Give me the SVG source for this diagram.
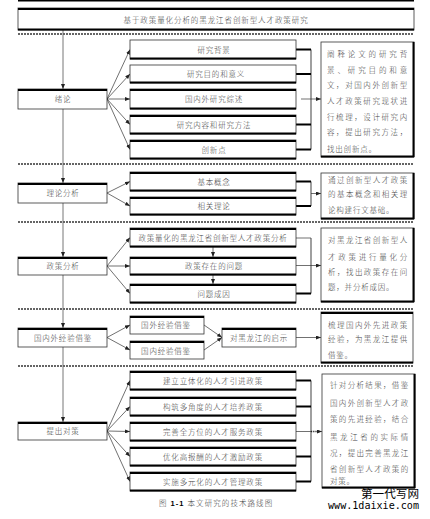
<svg xmlns="http://www.w3.org/2000/svg" width="430" height="519" viewBox="0 0 430 519">
<defs>
<style>
.box{fill:#fff;stroke:#333;stroke-width:0.8}
.thk{stroke:#000;stroke-width:2;fill:none}
.ln{stroke:#333;stroke-width:0.7;fill:none}
.vl{stroke:#666;stroke-width:0.9;fill:none}
.br{stroke:#777;stroke-width:1.4;fill:none}
.sep{stroke:#333;stroke-width:1.4;stroke-dasharray:2 1;fill:none}
.t{font-family:"Liberation Serif","Noto Sans CJK SC",serif;font-size:7.5px;font-weight:300;fill:#444;letter-spacing:0.8px;text-anchor:middle}
.d{font-family:"Liberation Serif","Noto Sans CJK SC",serif;font-size:7.5px;font-weight:300;fill:#444;letter-spacing:0.8px}
</style>
<marker id="ah" markerWidth="5" markerHeight="4" refX="5" refY="2" orient="auto" markerUnits="userSpaceOnUse">
<path d="M0,0 L5,2 L0,4 z" fill="#222"/>
</marker>
</defs>
<rect width="430" height="519" fill="#fff"/>
<line x1="18" y1="0.75" x2="414" y2="0.75" stroke="#000" stroke-width="1.5"/>

<g id="separators">
<line class="sep" x1="18" y1="34" x2="414" y2="34"/>
<line class="sep" x1="18" y1="164" x2="414" y2="164"/>
<line class="sep" x1="18" y1="222" x2="414" y2="222"/>
<line class="sep" x1="18" y1="309" x2="414" y2="309"/>
<line class="sep" x1="18" y1="366" x2="414" y2="366"/>
</g>

<g id="connectors">
<line class="vl" x1="63" y1="30" x2="63" y2="89" marker-end="url(#ah)"/>
<line class="vl" x1="63" y1="109" x2="63" y2="183" marker-end="url(#ah)"/>
<line class="vl" x1="63" y1="203" x2="63" y2="257" marker-end="url(#ah)"/>
<line class="vl" x1="63" y1="275" x2="63" y2="328" marker-end="url(#ah)"/>
<line class="vl" x1="63" y1="347" x2="63" y2="422" marker-end="url(#ah)"/>
<line class="ln" x1="107" y1="99" x2="130" y2="49.5" marker-end="url(#ah)"/>
<line class="ln" x1="107" y1="99" x2="130" y2="74" marker-end="url(#ah)"/>
<line class="ln" x1="107" y1="99" x2="130" y2="99" marker-end="url(#ah)"/>
<line class="ln" x1="107" y1="99" x2="130" y2="124.5" marker-end="url(#ah)"/>
<line class="ln" x1="107" y1="99" x2="130" y2="149.5" marker-end="url(#ah)"/>
<line class="br" x1="311" y1="49.5" x2="311" y2="149.5"/>
<line class="thk" x1="296" y1="49.5" x2="311" y2="49.5"/>
<line class="thk" x1="296" y1="74" x2="311" y2="74"/>
<line class="thk" x1="296" y1="124.5" x2="311" y2="124.5"/>
<line class="thk" x1="296" y1="149.5" x2="311" y2="149.5"/>
<line class="ln" x1="301" y1="99" x2="321" y2="99" marker-end="url(#ah)"/>
<line class="ln" x1="107" y1="193" x2="130" y2="181.5" marker-end="url(#ah)"/>
<line class="ln" x1="107" y1="193" x2="130" y2="206" marker-end="url(#ah)"/>
<line class="br" x1="311" y1="181.5" x2="311" y2="206"/>
<line class="thk" x1="296" y1="181.5" x2="311" y2="181.5"/>
<line class="thk" x1="296" y1="206" x2="311" y2="206"/>
<line class="ln" x1="311" y1="193.5" x2="321" y2="193.5" marker-end="url(#ah)"/>
<line class="ln" x1="107" y1="266" x2="130" y2="237.5" marker-end="url(#ah)"/>
<line class="ln" x1="107" y1="266" x2="130" y2="266" stroke-width="1.8" marker-end="url(#ah)"/>
<line class="ln" x1="107" y1="266" x2="130" y2="293.5" marker-end="url(#ah)"/>
<line class="ln" x1="213" y1="247" x2="213" y2="257" marker-end="url(#ah)"/>
<line class="ln" x1="213" y1="275" x2="213" y2="284" marker-end="url(#ah)"/>
<line class="br" x1="311" y1="238" x2="311" y2="293.5"/>
<line class="ln" x1="296" y1="238" x2="311" y2="238" stroke-width="1"/>
<line class="thk" x1="296" y1="293.5" x2="311" y2="293.5"/>
<line class="ln" x1="296" y1="265.5" x2="321" y2="265.5" marker-end="url(#ah)"/>
<line class="ln" x1="107" y1="337.5" x2="130" y2="325" marker-end="url(#ah)"/>
<line class="ln" x1="107" y1="337.5" x2="130" y2="350" marker-end="url(#ah)"/>
<line class="ln" x1="204" y1="325" x2="222" y2="337.5" marker-end="url(#ah)"/>
<line class="ln" x1="204" y1="350" x2="222" y2="337.5" marker-end="url(#ah)"/>
<line class="ln" x1="296" y1="337.5" x2="321" y2="337.5" marker-end="url(#ah)"/>
<line class="ln" x1="107" y1="431" x2="130" y2="380.5" marker-end="url(#ah)"/>
<line class="ln" x1="107" y1="431" x2="130" y2="406.5" marker-end="url(#ah)"/>
<line class="ln" x1="107" y1="431" x2="130" y2="431.5" marker-end="url(#ah)"/>
<line class="ln" x1="107" y1="431" x2="130" y2="456.5" marker-end="url(#ah)"/>
<line class="ln" x1="107" y1="431" x2="130" y2="481.5" marker-end="url(#ah)"/>
<line class="br" x1="311" y1="380.5" x2="311" y2="481.5"/>
<line class="thk" x1="296" y1="380.5" x2="311" y2="380.5"/>
<line class="thk" x1="296" y1="406.5" x2="311" y2="406.5"/>
<line class="thk" x1="296" y1="456.5" x2="311" y2="456.5"/>
<line class="thk" x1="296" y1="481.5" x2="311" y2="481.5"/>
<line class="ln" x1="296" y1="431.5" x2="311" y2="431.5"/>
<line x1="311" y1="431.5" x2="320" y2="431.5" stroke="#222" stroke-width="1.5" stroke-dasharray="1 0.8"/>
<line class="ln" x1="318" y1="431.5" x2="322" y2="431.5" marker-end="url(#ah)"/>
</g>

<g id="title">
<rect class="box" x="18" y="8" width="396" height="22"/>
<line class="thk" x1="18" y1="9" x2="414" y2="9"/>
<line class="thk" x1="18" y1="29.5" x2="414" y2="29.5"/>
<text class="t" x="216" y="23" textLength="185" lengthAdjust="spacing">基于政策量化分析的黑龙江省创新型人才政策研究</text>
</g>

<g id="n-xulun">
<rect class="box" x="18" y="89" width="89" height="20"/>
<line class="thk" x1="18" y1="90" x2="107" y2="90"/>
<text class="t" x="63" y="102">绪论</text>
</g>
<g id="n-bg"><rect class="box" x="130" y="40" width="166" height="19"/><line class="thk" x1="130" y1="58.5" x2="296" y2="58.5"/><text class="t" x="214" y="52.5">研究背景</text></g>
<g id="n-md"><rect class="box" x="130" y="65" width="166" height="18"/><line class="thk" x1="130" y1="82.5" x2="296" y2="82.5"/><text class="t" x="216" y="77">研究目的和意义</text></g>
<g id="n-zs"><rect class="box" x="130" y="89" width="166" height="20"/><line class="thk" x1="130" y1="90" x2="296" y2="90"/><line class="thk" x1="130" y1="108.5" x2="296" y2="108.5"/><text class="t" x="214" y="102">国内外研究综述</text></g>
<g id="n-ff"><rect class="box" x="130" y="115" width="166" height="19"/><line class="thk" x1="130" y1="116" x2="296" y2="116"/><line class="thk" x1="130" y1="133.5" x2="296" y2="133.5"/><text class="t" x="214" y="127.5">研究内容和研究方法</text></g>
<g id="n-cx"><rect class="box" x="130" y="140" width="166" height="19"/><line class="thk" x1="130" y1="141" x2="296" y2="141"/><line class="thk" x1="130" y1="158.5" x2="296" y2="158.5"/><text class="t" x="214" y="152.5">创新点</text></g>
<g id="d-1">
<rect class="box" x="321" y="42" width="93" height="115"/>
<line class="thk" x1="413.5" y1="42" x2="413.5" y2="157" stroke-width="1.5"/>
<line class="thk" x1="321" y1="156.5" x2="414" y2="156.5" stroke-width="1.5"/>
<text class="d" x="327" y="57" textLength="81" lengthAdjust="spacing">阐释论文的研究背</text>
<text class="d" x="327" y="73" textLength="81" lengthAdjust="spacing">景、研究目的和意</text>
<text class="d" x="327" y="88" textLength="81" lengthAdjust="spacing">文，对国内外创新型</text>
<text class="d" x="327" y="104" textLength="81" lengthAdjust="spacing">人才政策研究现状进</text>
<text class="d" x="327" y="120" textLength="81" lengthAdjust="spacing">行梳理，设计研究内</text>
<text class="d" x="327" y="135" textLength="81" lengthAdjust="spacing">容，提出研究方法，</text>
<text class="d" x="327" y="152">找出创新点。</text>
</g>

<g id="n-llfx">
<rect class="box" x="18" y="183" width="89" height="20"/>
<line class="thk" x1="18" y1="184" x2="107" y2="184"/>
<text class="t" x="63" y="196">理论分析</text>
</g>
<g id="n-jbgn"><rect class="box" x="130" y="172" width="166" height="19"/><line class="thk" x1="130" y1="173" x2="296" y2="173"/><line class="thk" x1="130" y1="190.5" x2="296" y2="190.5"/><text class="t" x="214" y="184.5">基本概念</text></g>
<g id="n-xgll"><rect class="box" x="130" y="197" width="166" height="18"/><line class="thk" x1="130" y1="198" x2="296" y2="198"/><line class="thk" x1="130" y1="214.5" x2="296" y2="214.5"/><text class="t" x="214" y="209">相关理论</text></g>
<g id="d-2">
<rect class="box" x="321" y="173" width="93" height="46"/>
<line class="thk" x1="413.5" y1="173" x2="413.5" y2="219" stroke-width="1.5"/>
<line class="thk" x1="321" y1="218.5" x2="414" y2="218.5" stroke-width="1.5"/>
<text class="d" x="328" y="183" textLength="80" lengthAdjust="spacing">通过创新型人才政策</text>
<text class="d" x="328" y="197" textLength="80" lengthAdjust="spacing">的基本概念和相关理</text>
<text class="d" x="328" y="213">论构建行文基础。</text>
</g>

<g id="n-zcfx">
<rect class="box" x="18" y="257" width="89" height="18"/>
<line class="thk" x1="18" y1="258" x2="107" y2="258"/>
<text class="t" x="63" y="269">政策分析</text>
</g>
<g id="n-lhfx"><rect class="box" x="130" y="228" width="166" height="19"/><line class="thk" x1="130" y1="229" x2="296" y2="229"/><line class="thk" x1="130" y1="246.5" x2="296" y2="246.5"/><text class="t" x="213" y="241" textLength="149" lengthAdjust="spacing">政策量化的黑龙江省创新型人才政策分析</text></g>
<g id="n-wt"><rect class="box" x="130" y="257" width="166" height="18"/><line class="thk" x1="130" y1="258" x2="296" y2="258"/><line class="thk" x1="130" y1="274.5" x2="296" y2="274.5"/><text class="t" x="214" y="269">政策存在的问题</text></g>
<g id="n-cy"><rect class="box" x="130" y="284" width="166" height="19"/><line class="thk" x1="130" y1="285" x2="296" y2="285"/><line class="thk" x1="130" y1="302.5" x2="296" y2="302.5"/><text class="t" x="214" y="297">问题成因</text></g>
<g id="d-3">
<rect class="box" x="321" y="228" width="93" height="74"/>
<line class="thk" x1="413.5" y1="228" x2="413.5" y2="302" stroke-width="1.5"/>
<line class="thk" x1="321" y1="301.5" x2="414" y2="301.5" stroke-width="1.5"/>
<text class="d" x="328" y="243" textLength="80" lengthAdjust="spacing">对黑龙江省创新型人</text>
<text class="d" x="328" y="260" textLength="80" lengthAdjust="spacing">才政策进行量化分</text>
<text class="d" x="328" y="275" textLength="80" lengthAdjust="spacing">析，找出政策存在问</text>
<text class="d" x="328" y="290">题，并分析成因。</text>
</g>

<g id="n-jj">
<rect class="box" x="18" y="328" width="89" height="19"/>
<line class="thk" x1="18" y1="329" x2="107" y2="329"/>
<text class="t" x="63" y="340.5">国内外经验借鉴</text>
</g>
<g id="n-gw"><rect class="box" x="130" y="316" width="74" height="18"/><line class="thk" x1="130" y1="317" x2="204" y2="317"/><text class="t" x="166" y="328">国外经验借鉴</text></g>
<g id="n-gn"><rect class="box" x="130" y="341" width="74" height="18"/><line class="thk" x1="130" y1="342" x2="204" y2="342"/><text class="t" x="166" y="354">国内经验借鉴</text></g>
<g id="n-qs"><rect class="box" x="222" y="328" width="74" height="19"/><line class="thk" x1="222" y1="329" x2="296" y2="329"/><text class="t" x="259" y="340.5">对黑龙江的启示</text></g>
<g id="d-4">
<rect class="box" x="321" y="312" width="92" height="51"/>
<line class="thk" x1="321" y1="313" x2="413" y2="313" stroke-width="1.5"/>
<line class="thk" x1="321" y1="362.5" x2="413" y2="362.5" stroke-width="1.5"/>
<text class="d" x="328" y="328" textLength="80" lengthAdjust="spacing">梳理国内外先进政策</text>
<text class="d" x="328" y="342" textLength="80" lengthAdjust="spacing">经验，为黑龙江提供</text>
<text class="d" x="328" y="358">借鉴。</text>
</g>

<g id="n-dc">
<rect class="box" x="18" y="422" width="89" height="18"/>
<line class="thk" x1="18" y1="423" x2="107" y2="423"/>
<text class="t" x="63" y="434">提出对策</text>
</g>
<g id="n-s1"><rect class="box" x="130" y="371" width="166" height="19"/><line class="thk" x1="130" y1="372" x2="296" y2="372"/><line class="thk" x1="130" y1="389.5" x2="296" y2="389.5"/><text class="t" x="213" y="383.5" textLength="100" lengthAdjust="spacing">建立立体化的人才引进政策</text></g>
<g id="n-s2"><rect class="box" x="130" y="397" width="166" height="19"/><line class="thk" x1="130" y1="398" x2="296" y2="398"/><line class="thk" x1="130" y1="415.5" x2="296" y2="415.5"/><text class="t" x="213" y="409.5" textLength="100" lengthAdjust="spacing">构筑多角度的人才培养政策</text></g>
<g id="n-s3"><rect class="box" x="130" y="422" width="166" height="19"/><line class="thk" x1="130" y1="423" x2="296" y2="423"/><line class="thk" x1="130" y1="440.5" x2="296" y2="440.5"/><text class="t" x="213" y="434.5" textLength="100" lengthAdjust="spacing">完善全方位的人才服务政策</text></g>
<g id="n-s4"><rect class="box" x="130" y="447" width="166" height="19"/><line class="thk" x1="130" y1="448" x2="296" y2="448"/><line class="thk" x1="130" y1="465.5" x2="296" y2="465.5"/><text class="t" x="213" y="459.5" textLength="100" lengthAdjust="spacing">优化高报酬的人才激励政策</text></g>
<g id="n-s5"><rect class="box" x="130" y="472" width="166" height="19"/><line class="thk" x1="130" y1="473" x2="296" y2="473"/><line class="thk" x1="130" y1="490.5" x2="296" y2="490.5"/><text class="t" x="213" y="484.5" textLength="100" lengthAdjust="spacing">实施多元化的人才管理政策</text></g>
<g id="d-5">
<rect class="box" x="322" y="374" width="93" height="114"/>
<line class="thk" x1="414.5" y1="374" x2="414.5" y2="488" stroke-width="1.5"/>
<line class="thk" x1="322" y1="487.5" x2="415" y2="487.5" stroke-width="1.5"/>
<text class="d" x="330" y="388" textLength="79" lengthAdjust="spacing">针对分析结果，借鉴</text>
<text class="d" x="330" y="406" textLength="79" lengthAdjust="spacing">国内外创新型人才政</text>
<text class="d" x="330" y="422" textLength="79" lengthAdjust="spacing">策的先进经验，结合</text>
<text class="d" x="330" y="440" textLength="79" lengthAdjust="spacing">黑龙江省的实际情</text>
<text class="d" x="330" y="456" textLength="79" lengthAdjust="spacing">况，提出完善黑龙江</text>
<text class="d" x="330" y="472" textLength="79" lengthAdjust="spacing">省创新型人才政策的</text>
<text class="d" x="330" y="484">对策。</text>
</g>

<text class="t" x="216" y="506" textLength="114" lengthAdjust="spacing">图 <tspan font-weight="bold" font-family="Liberation Sans, sans-serif" fill="#000">1-1</tspan> 本文研究的技术路线图</text>

<text x="361" y="497.5" font-family="Noto Sans CJK SC, sans-serif" font-size="11" fill="#000" textLength="58" lengthAdjust="spacingAndGlyphs">第一代写网</text>
<text x="328" y="509" font-family="DejaVu Sans Mono, monospace" font-size="10" fill="#000" textLength="91" lengthAdjust="spacingAndGlyphs">www.1daixie.com</text>
</svg>
